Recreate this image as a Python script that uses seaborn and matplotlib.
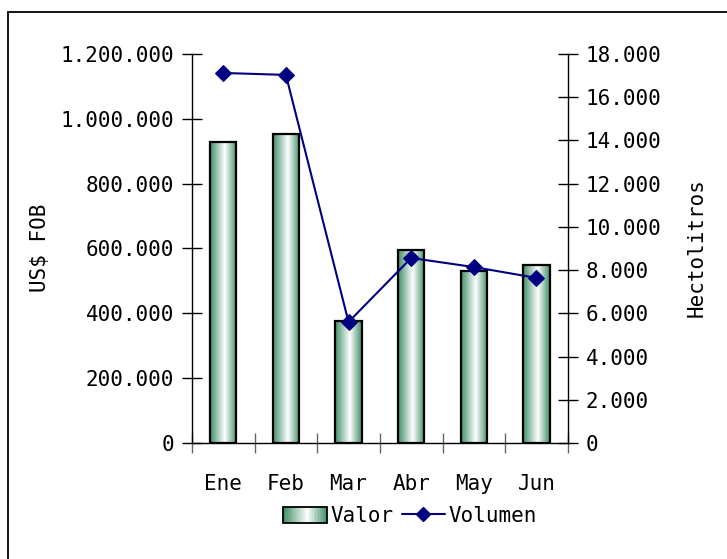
import numpy as np
import pandas as pd
import matplotlib
matplotlib.use("Agg")
import matplotlib.pyplot as plt
import seaborn as sns
from matplotlib.colors import LinearSegmentedColormap
from matplotlib.patches import Rectangle
from matplotlib.lines import Line2D
from matplotlib.legend_handler import HandlerBase
from matplotlib.ticker import FuncFormatter, MultipleLocator, FixedLocator, NullFormatter

meses = ["Ene", "Feb", "Mar", "Abr", "May", "Jun"]
valor = [928000, 953000, 377000, 596000, 532000, 549000]
volumen = [17120, 17030, 5600, 8560, 8140, 7640]

sns.set_theme(style="white")
plt.rcParams["font.family"] = ["DejaVu Sans Mono", "DejaVu Sans"]
plt.rcParams["text.color"] = "black"
plt.rcParams["xtick.color"] = "black"
plt.rcParams["ytick.color"] = "black"
FS = 15

green = "#3f8f66"
cmap = LinearSegmentedColormap.from_list("cyl", [(0, green), (0.55, "#ffffff"), (1, green)])
navy = "#000080"

fig = plt.figure(figsize=(7.27, 5.59), dpi=100)
ax = fig.add_axes([0.264, 0.2075, 0.517, 0.696])

df = pd.DataFrame({"Mes": meses, "Valor": valor, "Volumen": volumen})
sns.barplot(data=df, x="Mes", y="Valor", ax=ax, width=0.42, color="white",
            edgecolor="black", linewidth=1.6, saturation=1)

grad = np.linspace(0, 1, 256).reshape(1, -1)
for p in list(ax.patches):
    x0, y0 = p.get_x(), p.get_y()
    w, h = p.get_width(), p.get_height()
    ax.imshow(grad, cmap=cmap, extent=[x0, x0 + w, y0, y0 + h], aspect="auto",
              zorder=1.5, interpolation="bilinear")
    p.set_facecolor("none")
    p.set_zorder(2)

ax.set_xlim(-0.5, len(meses) - 0.5)
ax.set_ylim(0, 1200000)
ax.yaxis.set_major_locator(MultipleLocator(200000))
fmt = FuncFormatter(lambda v, pos: f"{int(round(v)):,}".replace(",", "."))
ax.yaxis.set_major_formatter(fmt)
ax.set_ylabel("")
ax.set_xlabel("")

ax2 = ax.twinx()
xpos = np.arange(len(meses))
sns.lineplot(x=xpos, y=volumen, ax=ax2, color=navy, marker="D", markersize=8.5,
             markeredgecolor=navy, linewidth=1.5)
ax2.set_ylim(0, 18000)
ax2.set_xlim(-0.5, len(meses) - 0.5)
ax2.yaxis.set_major_locator(MultipleLocator(2000))
ax2.yaxis.set_major_formatter(fmt)
ax2.set_ylabel("")

fig.text(40 / 727, 1 - 248 / 559, "US$ FOB", rotation=90, ha="center", va="center",
         fontsize=FS, color="black")
fig.text(697 / 727, 1 - 248 / 559, "Hectolitros", rotation=90, ha="center", va="center",
         fontsize=FS, color="black")

for a in (ax, ax2):
    for s in a.spines.values():
        s.set_visible(False)
    a.set_facecolor("none")
    a.grid(False)

ax.spines["left"].set_visible(True)
ax.spines["bottom"].set_visible(True)
ax2.spines["right"].set_visible(True)
for s in (ax.spines["left"], ax.spines["bottom"], ax2.spines["right"]):
    s.set_color("black")
    s.set_linewidth(1.0)

ax.tick_params(axis="y", which="major", direction="inout", length=15, width=1,
               color="black", labelsize=FS, pad=5.5, left=True, labelcolor="black")
ax2.tick_params(axis="y", which="major", direction="inout", length=15, width=1,
                color="black", labelsize=FS, pad=5.5, right=True, labelcolor="black")
ax.xaxis.set_minor_locator(FixedLocator(np.arange(len(meses) + 1) - 0.5))
ax.xaxis.set_minor_formatter(NullFormatter())
ax.tick_params(axis="x", which="minor", direction="inout", length=15, width=1,
               color="#666666", bottom=True)
ax.tick_params(axis="x", which="major", length=0, labelsize=FS, pad=22, labelcolor="black")

class GradHandler(HandlerBase):
    def create_artists(self, legend, orig_handle, xdescent, ydescent, width,
                       height, fontsize, trans):
        arts = []
        n = 30
        for i in range(n):
            r = Rectangle((-xdescent + width * i / n, -ydescent), width / n + 0.3,
                          height, facecolor=cmap((i + 0.5) / n), edgecolor="none",
                          transform=trans)
            arts.append(r)
        arts.append(Rectangle((-xdescent, -ydescent), width, height,
                              facecolor="none", edgecolor="black", linewidth=1.3,
                              transform=trans))
        return arts

bar_handle = Rectangle((0, 0), 1, 1)
line_handle = Line2D([], [], color=navy, marker="D", markersize=7, linewidth=1.5)
fig.legend([bar_handle, line_handle], ["Valor", "Volumen"],
           handler_map={Rectangle: GradHandler()},
           loc="center", bbox_to_anchor=(0.564, 0.077), ncol=2, frameon=False,
           fontsize=FS, handlelength=2.1, handleheight=0.8, handletextpad=0.15,
           columnspacing=0.4)

fig.add_artist(Rectangle((0.011, -0.2), 1.5, 1.1785, transform=fig.transFigure,
                         facecolor="none", edgecolor="black", linewidth=1.3,
                         clip_on=False))

fig.savefig("out.png", dpi=100)
